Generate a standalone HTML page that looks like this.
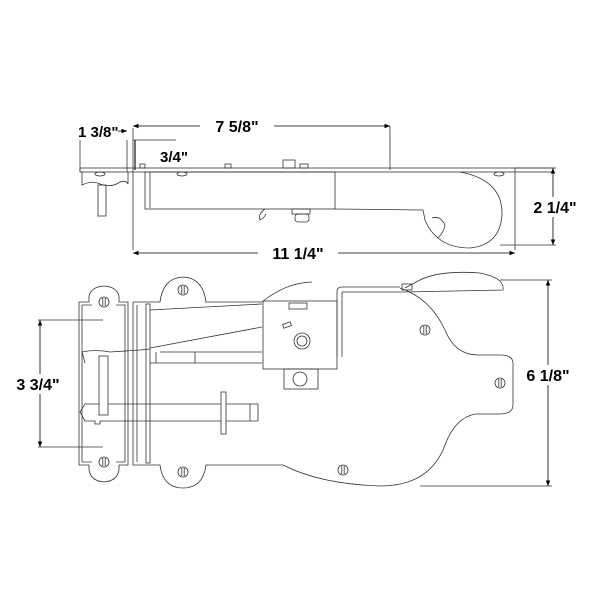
<!DOCTYPE html>
<html><head><style>body{margin:0;background:#fff}svg{display:block}</style></head><body>
<svg width="600" height="600" viewBox="0 0 600 600" xmlns="http://www.w3.org/2000/svg" font-family="Liberation Sans, sans-serif">
<defs>
<marker id="a" viewBox="0 0 10 10" refX="10" refY="5" markerWidth="7" markerHeight="7" orient="auto-start-reverse"><path d="M0,1 L10,5 L0,9z" fill="#000"/></marker>
<g id="s"><circle r="5" fill="#fff" stroke="#333" stroke-width="0.8"/><line x1="-1.2" y1="-4" x2="-1.2" y2="4" stroke="#333" stroke-width="0.8"/><line x1="1.2" y1="-4" x2="1.2" y2="4" stroke="#333" stroke-width="0.8"/></g>
</defs>
<g fill="none" stroke="#333" stroke-width="0.8">
<!-- TOP VIEW -->
<line x1="133" y1="126" x2="390" y2="126" stroke="#000" marker-start="url(#a)" marker-end="url(#a)"/>
<line x1="118" y1="131" x2="127" y2="131" stroke="#000" marker-end="url(#a)"/>
<line x1="390" y1="126" x2="390" y2="170"/>
<line x1="80" y1="140" x2="80" y2="172"/>
<line x1="127" y1="140" x2="127" y2="172"/>
<line x1="133" y1="128" x2="133" y2="250"/>
<line x1="135" y1="140" x2="135" y2="170" stroke-width="1.4"/>
<line x1="133" y1="140" x2="176" y2="140"/>
<rect x="80" y="168" width="473" height="4"/>
<path d="M82 172 L82 185 Q92 180 100 184 Q112 188 120 182 Q126 180 128 184 L128 172"/>
<rect x="98" y="185" width="8" height="31"/>
<rect x="145" y="172" width="190" height="37"/>
<line x1="150" y1="172" x2="150" y2="208"/>
<rect x="283" y="160" width="12" height="8"/>
<rect x="225" y="164" width="6" height="4"/><rect x="300" y="164" width="8" height="4"/><rect x="140" y="164" width="5" height="4"/>
<path d="M335 209 L423 210 L425 220 Q430 232 438 238 Q444 232 445 225 Q440 215 432 218"/>
<path d="M460 172 Q503 180 502 215 Q500 245 470 248 Q450 248 438 238"/>
<path d="M265 209 Q258 214 260 220 Q264 218 266 214"/>
<rect x="292" y="209" width="18" height="5"/><rect x="295" y="214" width="14" height="8" rx="3"/>
<ellipse cx="100" cy="174" rx="5" ry="2"/><ellipse cx="182" cy="174" rx="5" ry="2"/><ellipse cx="499" cy="174" rx="5" ry="2"/>
<line x1="133" y1="253" x2="515" y2="253" stroke="#000" marker-start="url(#a)" marker-end="url(#a)"/>
<line x1="515" y1="168" x2="515" y2="250"/>
<line x1="515" y1="168" x2="556" y2="168"/>
<line x1="500" y1="245" x2="556" y2="245"/>
<line x1="553" y1="168" x2="553" y2="245" stroke="#000" marker-start="url(#a)" marker-end="url(#a)"/>

<!-- BOTTOM VIEW -->
<line x1="38" y1="320" x2="103" y2="320"/><line x1="38" y1="447" x2="103" y2="447"/>
<line x1="40" y1="320" x2="40" y2="447" stroke="#000" marker-start="url(#a)" marker-end="url(#a)"/>
<line x1="420" y1="486" x2="552" y2="486"/><line x1="500" y1="280" x2="552" y2="280"/>
<line x1="548" y1="280" x2="548" y2="486" stroke="#000" marker-start="url(#a)" marker-end="url(#a)"/>
<path d="M79 302 L89 302 L89 296 Q91 287 104 286 Q117 287 119 296 L119 302 L128 302 L128 465 L119 465 L119 470 Q117 481 104 482 Q91 481 89 470 L89 465 L79 465 Z"/>
<path d="M82 305 L92 305 M116 305 L125 305 L125 462 M82 305 L82 462 L92 462 M116 462 L125 462"/>
<path d="M133 302 L160 302 Q163 278 183 277 Q203 278 206 302 L262 302"/>
<path d="M133 302 L133 465 L160 465 Q163 488 183 488 Q203 488 206 465 L283 465"/>
<line x1="137" y1="305" x2="137" y2="462"/>
<rect x="146" y="304" width="4" height="159"/>
<path d="M283 465 Q320 484 380 486 Q430 486 445 445 Q455 418 475 414 L500 414 Q513 414 513 405 L513 363 Q513 355 500 355 L478 355 Q455 355 445 330 Q430 298 400 288 M262 302 Q285 283 312 282"/>
<path d="M150 310 L262 304 M150 348 L262 327 M160 352 L262 352 M150 363 L262 363 M156 352 L156 363 M195 352 L195 363"/>
<path d="M82 352 Q95 349 110 352 Q125 351 140 350 L150 349 M85 363 L82 352"/>
<rect x="263" y="301" width="74" height="68"/>
<rect x="289" y="303" width="18" height="6"/>
<rect x="283" y="323" width="8" height="4" transform="rotate(-20 287 325)"/>
<circle cx="302" cy="341" r="8"/><circle cx="302" cy="341" r="5"/>
<rect x="284" y="369" width="34" height="20"/><circle cx="300" cy="379" r="7"/>
<path d="M337 357 L337 292 Q337 287 342 287 L400 287 M342 357 L342 292 L405 292 L503 290 Q505 278 480 273 Q440 270 420 280 L405 288"/>
<rect x="402" y="284" width="10" height="6"/>
<path d="M258 404 L95 404 L85 404 L80 412 L85 421 L95 421 L95 424 L100 424 L100 421 L258 421 Z"/>
<line x1="250" y1="404" x2="250" y2="421"/>
<rect x="99" y="356" width="9" height="59" fill="#fff"/>
<rect x="221" y="392" width="5" height="42" fill="#fff"/>
</g>
<use href="#s" x="104" y="302"/><use href="#s" x="104" y="462"/>
<use href="#s" x="183" y="290"/><use href="#s" x="183" y="472"/>
<use href="#s" x="425" y="330"/><use href="#s" x="500" y="383"/><use href="#s" x="343" y="470"/>
<g font-weight="bold" font-size="16" fill="#000">
<text x="78" y="137" font-size="15">1 3/8"</text>
<rect x="200" y="116" width="74" height="20" fill="#fff"/><text x="237" y="132" text-anchor="middle">7 5/8"</text>
<text x="160" y="162" font-size="15">3/4"</text>
<rect x="258" y="243" width="80" height="20" fill="#fff"/><text x="298" y="259" text-anchor="middle">11 1/4"</text>
<rect x="526" y="197" width="58" height="20" fill="#fff"/><text x="555" y="213" text-anchor="middle">2 1/4"</text>
<rect x="518" y="365" width="60" height="20" fill="#fff"/><text x="548" y="381" text-anchor="middle">6 1/8"</text>
<rect x="12" y="374" width="54" height="20" fill="#fff"/><text x="38" y="390" text-anchor="middle">3 3/4"</text>
</g>
</svg>
</body></html>
